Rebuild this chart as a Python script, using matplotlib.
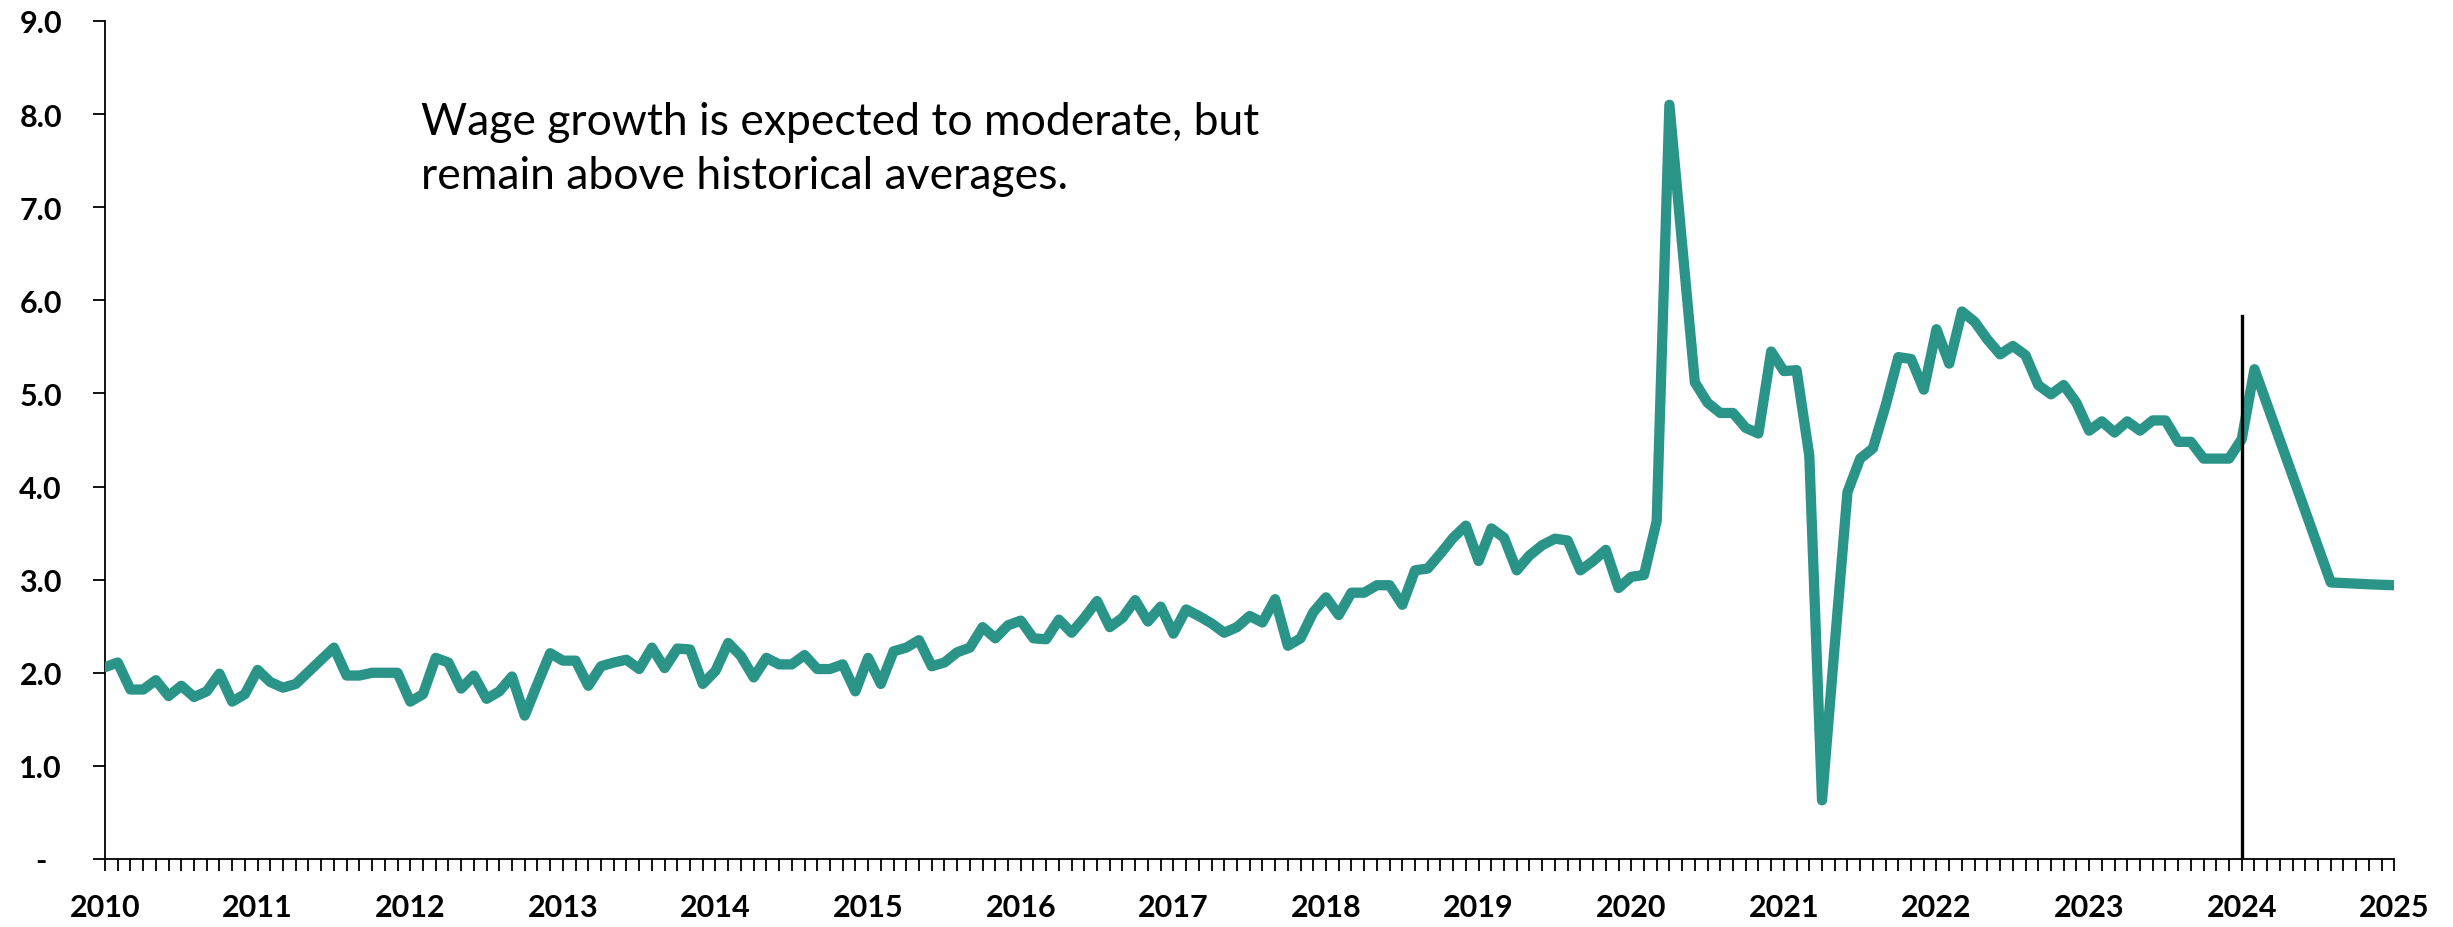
import numpy as np
import matplotlib.pyplot as plt
from matplotlib.ticker import FixedLocator, FuncFormatter

# monthly wage growth (%), Jan 2010 - Jan 2024
hist_values = [
    2.06, 2.11, 1.82, 1.82, 1.92, 1.75, 1.86, 1.74, 1.80, 1.99, 1.69, 1.77,
    2.03, 1.90, 1.84, 1.88, 2.01, 2.14, 2.27, 1.97, 1.97, 2.00, 2.00, 2.00,
    1.69, 1.77, 2.16, 2.11, 1.83, 1.97, 1.72, 1.80, 1.96, 1.54, 1.88, 2.21,
    2.13, 2.13, 1.86, 2.07, 2.11, 2.14, 2.04, 2.27, 2.05, 2.26, 2.25, 1.88,
    2.02, 2.32, 2.18, 1.95, 2.16, 2.09, 2.09, 2.19, 2.04, 2.04, 2.09, 1.80,
    2.16, 1.88, 2.23, 2.27, 2.35, 2.07, 2.11, 2.22, 2.27, 2.49, 2.37, 2.51,
    2.56, 2.37, 2.36, 2.57, 2.43, 2.59, 2.77, 2.49, 2.59, 2.78, 2.55, 2.71,
    2.42, 2.68, 2.61, 2.53, 2.43, 2.49, 2.61, 2.54, 2.79, 2.29, 2.37, 2.65,
    2.81, 2.62, 2.86, 2.86, 2.94, 2.94, 2.73, 3.10, 3.12, 3.28, 3.45, 3.58,
    3.20, 3.55, 3.45, 3.10, 3.26, 3.37, 3.44, 3.42, 3.10, 3.20, 3.32, 2.91,
    3.03, 3.05, 3.63, 8.10, 6.60, 5.12, 4.90, 4.79, 4.79, 4.63, 4.57, 5.45,
    5.24, 5.25, 4.33, 0.63, 2.30, 3.94, 4.30, 4.41, 4.87, 5.39, 5.37, 5.04,
    5.69, 5.32, 5.88, 5.77, 5.58, 5.42, 5.51, 5.41, 5.09, 4.99, 5.09, 4.90,
    4.60, 4.70, 4.58, 4.70, 4.60, 4.71, 4.71, 4.48, 4.48, 4.30, 4.30, 4.30,
    4.51,
]
# forecast points (months since Jan 2010)
forecast_months = [169, 175, 178, 180]
forecast_values = [5.26, 2.97, 2.95, 2.94]

years = list(range(2010, 2026))
note = "Wage growth is expected to moderate, but\nremain above historical averages."

months = list(range(len(hist_values))) + forecast_months
values = hist_values + forecast_values
x = 2010 + np.array(months) / 12

fig = plt.figure(figsize=(24.53, 9.28), dpi=100)
ax = fig.add_axes([0.0428, 0.0733, 0.9333, 0.9030])

ax.plot(x, values, color='#2B9489', lw=7.4, solid_joinstyle='round',
        solid_capstyle='round', zorder=3)
ax.axvline(2024, ymin=0, ymax=5.83 / 9, color='black', lw=2.4, zorder=4)

ax.set_xlim(2010, 2025)
ax.set_ylim(0, 9)

ax.spines['top'].set_visible(False)
ax.spines['right'].set_visible(False)
for s in ['left', 'bottom']:
    ax.spines[s].set_linewidth(1.3)

ax.set_yticks(np.arange(0, 10, 1))
ax.yaxis.set_major_formatter(FuncFormatter(lambda v, p: '-  ' if v == 0 else f'{v:.1f}'))
ax.set_xticks(years)
ax.set_xticklabels([str(y) for y in years])
ax.xaxis.set_minor_locator(FixedLocator(2010 + np.arange(0, 181) / 12))

ax.tick_params(axis='y', length=9, width=1.3, pad=22, labelsize=22)
ax.tick_params(axis='x', which='both', length=8.5, width=1.3, pad=16, labelsize=22)
for lab in ax.get_xticklabels() + ax.get_yticklabels():
    lab.set_fontweight('bold')
    lab.set_fontfamily('Lato')

ax.text(2012.07, 7.63, note, fontsize=32, family='Lato', va='center',
        linespacing=1.4)

fig.savefig('out.png', dpi=100)
